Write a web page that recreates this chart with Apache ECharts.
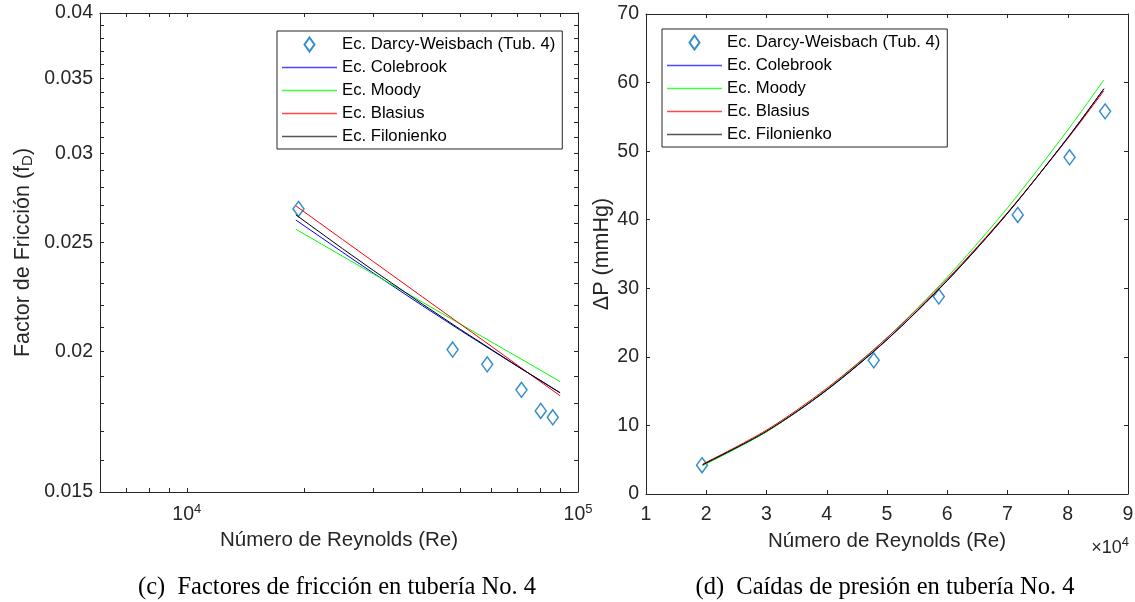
<!DOCTYPE html>
<html>
<head>
<meta charset="utf-8">
<script src="https://cdn.jsdelivr.net/npm/echarts@6.0.0/dist/echarts.min.js"></script>
<style>
  html, body { margin: 0; padding: 0; background: #fff; }
  #chart { width: 1135px; height: 602px; }
</style>
</head>
<body>
<div id="chart"></div>
<script>
// measured points (Darcy-Weisbach, tube 4)
const reMeasured = [19300, 47800, 58600, 71700, 80300, 86200];
const fDarcy = [0.02678, 0.02008, 0.01948, 0.01849, 0.01771, 0.01748];
const dpDarcy = [4.2, 19.5, 28.8, 40.7, 49.1, 55.8];

// (c) friction factor curves
const reFric = [19000, 25000, 30000, 40000, 50000, 60000, 70000, 80000, 90000];
const fColebrook = [0.02618, 0.02451, 0.02348, 0.02197, 0.02089, 0.02007, 0.01940, 0.01886, 0.01838];
const fMoody = [0.02569, 0.02431, 0.02344, 0.02213, 0.02116, 0.02040, 0.01978, 0.01926, 0.01880];
const fBlasius = [0.02695, 0.02516, 0.02404, 0.02237, 0.02116, 0.02022, 0.01945, 0.01881, 0.01827];
const fFilonienko = [0.02646, 0.02469, 0.02361, 0.02204, 0.02093, 0.02009, 0.01941, 0.01885, 0.01838];

// (d) pressure drop curves
const reDrop = [19400, 30000, 40000, 50000, 60000, 70000, 80000, 86000];
const dpColebrook = [4.23, 9.10, 15.14, 22.49, 31.11, 40.93, 51.98, 59.1];
const dpMoody = [4.15, 9.08, 15.25, 22.78, 31.62, 41.73, 53.08, 60.4];
const dpBlasius = [4.35, 9.32, 15.41, 22.78, 31.34, 41.04, 51.84, 58.8];
const dpFilonienko = [4.27, 9.15, 15.18, 22.53, 31.14, 40.95, 51.95, 59.1];

// tick labels
const fricXLabels = [10000, 100000];
const fricXTicks = [7000, 8000, 9000, 10000, 20000, 30000, 40000, 50000, 60000, 70000, 80000, 90000, 100000];
const fricYLabels = [0.015, 0.02, 0.025, 0.03, 0.035, 0.04];
const fricYTicks = [];
for (let i = 15; i <= 40; i++) fricYTicks.push(i / 1000);

const names = ['Ec. Darcy-Weisbach (Tub. 4)', 'Ec. Colebrook', 'Ec. Moody', 'Ec. Blasius', 'Ec. Filonienko'];
const colors = ['#0072BD', '#0000FF', '#00FF00', '#FF0000', '#000000'];
const legendColors = ['#0072BD', '#4848FF', '#40FF40', '#FF4848', '#555555'];

const FONT = '"Liberation Sans", Arial, Helvetica, sans-serif';
const SERIF = '"Liberation Serif", "Times New Roman", serif';
const AXIS_COLOR = '#262626';
const TICK_FONT = 19.5;
const diamond = 'path://M5,0L10,7L5,14L0,7Z';
const thinBar = 'path://M0,0H55V1.6H0Z';

const pairs = (xs, ys) => xs.map((x, i) => [x, ys[i]]);

const axisLine = { show: true, onZero: false, lineStyle: { color: AXIS_COLOR, width: 1 } };
const supRich = {
  b: { fontSize: TICK_FONT, fontFamily: FONT, color: AXIS_COLOR },
  s: { fontSize: 13, fontFamily: FONT, color: AXIS_COLOR, padding: [0, 0, 11, 0] },
};

function logX(gridIndex, position, withLabels) {
  return {
    gridIndex, type: 'log', logBase: 10, min: 6000, max: 100000, position,
    axisLine,
    splitLine: { show: false },
    minorTick: { show: false },
    axisTick: { show: true, inside: true, length: 4, customValues: fricXTicks, lineStyle: { color: AXIS_COLOR } },
    axisLabel: withLabels ? {
      customValues: fricXLabels, margin: 11,
      formatter: v => '{b|10}{s|' + Math.round(Math.log10(v)) + '}',
      rich: supRich,
    } : { show: false },
    name: withLabels ? 'Número de Reynolds (Re)' : '',
    nameLocation: 'middle', nameGap: 38,
    nameTextStyle: { fontSize: 20.5, fontFamily: FONT, color: AXIS_COLOR },
  };
}

function logY(gridIndex, position, withLabels) {
  return {
    gridIndex, type: 'log', logBase: 10, min: 0.015, max: 0.04, position,
    axisLine,
    splitLine: { show: false },
    axisTick: { show: true, inside: true, length: 4, customValues: fricYTicks, lineStyle: { color: AXIS_COLOR } },
    axisLabel: withLabels ? {
      customValues: fricYLabels, margin: 7,
      fontSize: TICK_FONT, fontFamily: FONT, color: AXIS_COLOR,
      formatter: v => String(+(+v).toPrecision(6)),
    } : { show: false },
    name: withLabels ? 'Factor de Fricción (f{sub|D})' : '',
    nameLocation: 'middle', nameGap: 66, nameRotate: 90,
    nameTextStyle: {
      fontSize: 21.5, fontFamily: FONT, color: AXIS_COLOR,
      rich: { sub: { fontSize: 15, fontFamily: FONT, color: AXIS_COLOR, padding: [0, 0, -9, 0] } },
    },
  };
}

function linX(gridIndex, position, withLabels) {
  return {
    gridIndex, type: 'value', min: 10000, max: 90000, interval: 10000, position,
    axisLine,
    splitLine: { show: false },
    axisTick: { show: true, inside: true, length: 4, lineStyle: { color: AXIS_COLOR } },
    axisLabel: withLabels ? {
      margin: 11, fontSize: TICK_FONT, fontFamily: FONT, color: AXIS_COLOR,
      formatter: v => String(v / 10000),
    } : { show: false },
    name: withLabels ? 'Número de Reynolds (Re)' : '',
    nameLocation: 'middle', nameGap: 37,
    nameTextStyle: { fontSize: 20.5, fontFamily: FONT, color: AXIS_COLOR },
  };
}

function linY(gridIndex, position, withLabels) {
  return {
    gridIndex, type: 'value', min: 0, max: 70, interval: 10, position,
    axisLine,
    splitLine: { show: false },
    axisTick: { show: true, inside: true, length: 4, lineStyle: { color: AXIS_COLOR } },
    axisLabel: withLabels ? { margin: 7, fontSize: TICK_FONT, fontFamily: FONT, color: AXIS_COLOR } : { show: false },
    name: withLabels ? 'ΔP (mmHg)' : '',
    nameLocation: 'middle', nameGap: 33, nameRotate: 90,
    nameTextStyle: { fontSize: 21.5, fontFamily: FONT, color: AXIS_COLOR },
  };
}

function legendAt(left, top) {
  return {
    orient: 'vertical', left, top,
    // line entries: a thin bar in the series colour instead of line + circle
    data: names.map((n, i) => (i === 0 ? n : {
      name: n,
      icon: thinBar,
      itemStyle: { color: legendColors[i], borderWidth: 0 },
    })),
    itemWidth: 55, itemHeight: 14, itemGap: 6,
    symbolKeepAspect: true,
    padding: [5, 7, 4, 5],
    borderColor: AXIS_COLOR, borderWidth: 1, backgroundColor: '#fff',
    textStyle: { fontSize: 16.7, fontFamily: FONT, color: '#000', lineHeight: 15 },
    selectedMode: false,
  };
}

function scatter(x, y, data) {
  return {
    name: names[0], type: 'scatter', xAxisIndex: x, yAxisIndex: y, data,
    symbol: diamond, symbolSize: [11, 15], symbolKeepAspect: false,
    itemStyle: { color: 'rgba(255,255,255,0)', borderColor: colors[0], borderWidth: 1.5 },
  };
}

function curve(k, x, y, data, smooth) {
  return {
    name: names[k], type: 'line', xAxisIndex: x, yAxisIndex: y, data,
    symbol: 'none', smooth: smooth ? 0.3 : false,
    lineStyle: { color: colors[k], width: 1 },
    itemStyle: { color: colors[k] },
  };
}

const option = {
  animation: false,
  backgroundColor: '#fff',
  grid: [
    { left: 100, top: 13, width: 478, height: 479, outerBoundsMode: 'none' },
    { left: 646, top: 14, width: 482, height: 480, outerBoundsMode: 'none' },
  ],
  xAxis: [logX(0, 'bottom', true), logX(0, 'top', false), linX(1, 'bottom', true), linX(1, 'top', false)],
  yAxis: [logY(0, 'left', true), logY(0, 'right', false), linY(1, 'left', true), linY(1, 'right', false)],
  legend: [legendAt(277, 31), legendAt(662, 29)],
  series: [
    scatter(0, 0, pairs(reMeasured, fDarcy)),
    curve(1, 0, 0, pairs(reFric, fColebrook)),
    curve(2, 0, 0, pairs(reFric, fMoody)),
    curve(3, 0, 0, pairs(reFric, fBlasius)),
    curve(4, 0, 0, pairs(reFric, fFilonienko)),
    scatter(2, 2, pairs(reMeasured, dpDarcy)),
    curve(1, 2, 2, pairs(reDrop, dpColebrook), true),
    curve(2, 2, 2, pairs(reDrop, dpMoody), true),
    curve(3, 2, 2, pairs(reDrop, dpBlasius), true),
    curve(4, 2, 2, pairs(reDrop, dpFilonienko), true),
  ],
  graphic: [
    {
      type: 'text', x: 1129, y: 548,
      style: {
        text: '×10{s|4}', fontSize: 18, fontFamily: FONT, fill: AXIS_COLOR,
        align: 'right', verticalAlign: 'middle',
        rich: { s: { fontSize: 13, fontFamily: FONT, fill: AXIS_COLOR, padding: [0, 0, 11, 0] } },
      },
    },
    {
      type: 'text', x: 337, y: 588,
      style: {
        text: '(c)  Factores de fricción en tubería No. 4', fontSize: 24.5,
        fontFamily: SERIF, fill: '#000', align: 'center', verticalAlign: 'middle',
      },
    },
    {
      type: 'text', x: 885, y: 588,
      style: {
        text: '(d)  Caídas de presión en tubería No. 4', fontSize: 24.5,
        fontFamily: SERIF, fill: '#000', align: 'center', verticalAlign: 'middle',
      },
    },
  ],
};

const chart = echarts.init(document.getElementById('chart'), null, { renderer: 'canvas' });
chart.setOption(option);
window.addEventListener('resize', chart.resize);
</script>
</body>
</html>
